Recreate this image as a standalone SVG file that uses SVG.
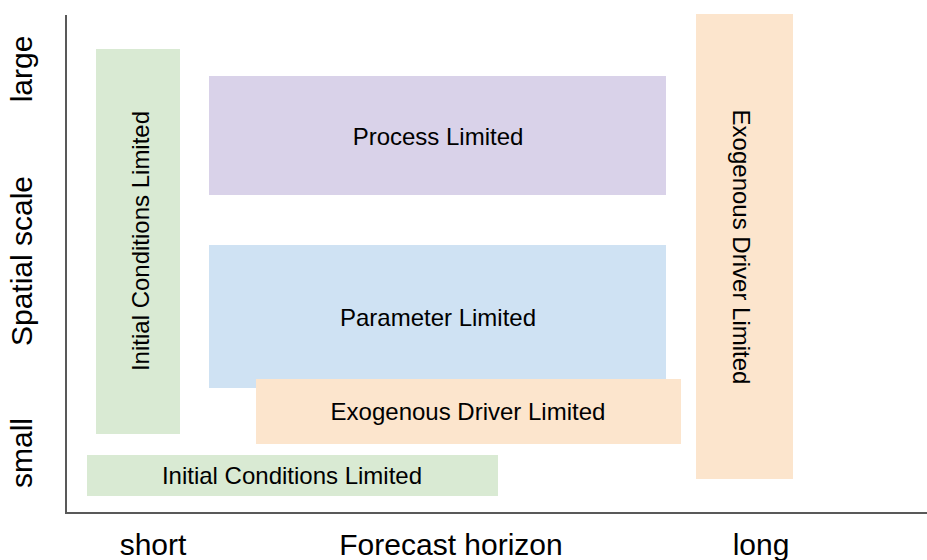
<svg xmlns="http://www.w3.org/2000/svg" width="927" height="560" viewBox="0 0 927 560">
<style>
.lbl{font-family:"Liberation Sans",Arial,sans-serif;font-size:24px;fill:#000;text-anchor:middle}
.ax{font-family:"Liberation Sans",Arial,sans-serif;font-size:30px;fill:#000;text-anchor:middle}
.green{fill:#d9ead3}.purple{fill:#d9d2e9}.blue{fill:#cfe2f3}.orange{fill:#fce5cd}
</style>
<rect width="927" height="560" fill="#fff"/>
<g id="axes">
<path d="M66,15 V513 H927" fill="none" stroke="#595959" stroke-width="2"/>
<text class="ax" transform="translate(32,69) rotate(-90)">large</text>
<text class="ax" transform="translate(32,261) rotate(-90)">Spatial scale</text>
<text class="ax" transform="translate(32,453) rotate(-90)">small</text>
<text class="ax" x="153" y="555">short</text>
<text class="ax" x="451" y="555">Forecast horizon</text>
<text class="ax" x="761" y="555">long</text>
</g>
<g id="ic-vertical">
<rect class="green" x="96" y="49" width="84" height="385"/>
<text class="lbl" transform="translate(148.5,241) rotate(-90)">Initial Conditions Limited</text>
</g>
<g id="process">
<rect class="purple" x="209" y="76" width="457" height="119"/>
<text class="lbl" x="438" y="145">Process Limited</text>
</g>
<g id="parameter">
<rect class="blue" x="209" y="245" width="457" height="143"/>
<text class="lbl" x="438" y="326">Parameter Limited</text>
</g>
<g id="exo-horizontal">
<rect class="orange" x="256" y="379" width="425" height="65"/>
<text class="lbl" x="468" y="420">Exogenous Driver Limited</text>
</g>
<g id="exo-vertical">
<rect class="orange" x="696" y="14" width="97" height="465"/>
<text class="lbl" transform="translate(732.5,247) rotate(90)">Exogenous Driver Limited</text>
</g>
<g id="ic-horizontal">
<rect class="green" x="87" y="455" width="411" height="41"/>
<text class="lbl" x="292" y="484">Initial Conditions Limited</text>
</g>
<g id="connectors"/>
</svg>
